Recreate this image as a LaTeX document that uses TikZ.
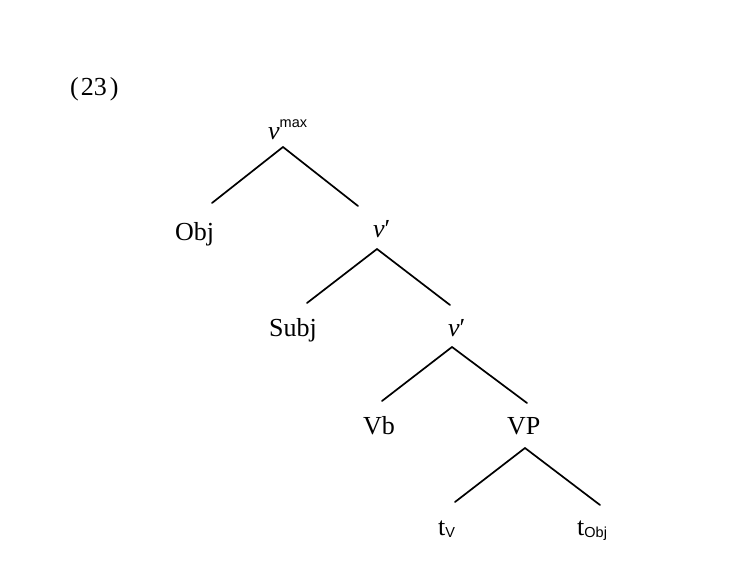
\documentclass[tikz,border=0pt]{standalone}
\usepackage{fontspec}
\setmainfont{Liberation Serif}
\setsansfont{Liberation Sans}
\begin{document}
\begin{tikzpicture}[x=1pt,y=-1pt,
  lbl/.style={anchor=base west,inner sep=0pt,font=\fontsize{26}{30}\selectfont},
  branch/.style={line width=1.7pt,line cap=round}]
\useasboundingbox[fill=white] (0,0) rectangle (732,568);
\newcommand{\sbs}[1]{\raisebox{-2pt}{\sffamily\fontsize{14.5}{14}\selectfont #1}}
\node[lbl] (ex) at (70,95) {(\kern2pt 23\kern3pt)};
\node[lbl] (vmax) at (268,139) {\textit{v}\raisebox{12pt}{\sffamily\fontsize{14.5}{14}\selectfont max}};
\node[lbl] (obj) at (175,240) {Obj};
\node[lbl] (v1) at (373,237) {\textit{v}′};
\node[lbl] (subj) at (269,336) {Subj};
\node[lbl] (v2) at (448,336) {\textit{v}′};
\node[lbl] (vb) at (363,434) {Vb};
\node[lbl] (vp) at (507,434) {VP};
\node[lbl] (tv) at (438,535) {t\sbs{V}};
\node[lbl] (tobj) at (577,535) {t\sbs{Obj}};
\draw[branch] ([shift={(15,8)}]vmax.base west) -- ([shift={(37,-37)}]obj.base west);
\draw[branch] ([shift={(15,8)}]vmax.base west) -- ([shift={(-15,-31)}]v1.base west);
\draw[branch] ([shift={(4,12)}]v1.base west) -- ([shift={(38,-33)}]subj.base west);
\draw[branch] ([shift={(4,12)}]v1.base west) -- ([shift={(2,-31)}]v2.base west);
\draw[branch] ([shift={(4,11)}]v2.base west) -- ([shift={(19,-33)}]vb.base west);
\draw[branch] ([shift={(4,11)}]v2.base west) -- ([shift={(20,-31)}]vp.base west);
\draw[branch] ([shift={(18,14)}]vp.base west) -- ([shift={(17,-33)}]tv.base west);
\draw[branch] ([shift={(18,14)}]vp.base west) -- ([shift={(23,-30)}]tobj.base west);
\end{tikzpicture}
\end{document}
